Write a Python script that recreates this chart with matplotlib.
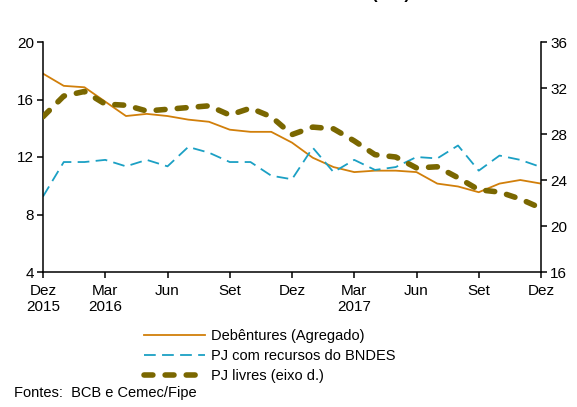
import numpy as np
import matplotlib
matplotlib.use('Agg')
import matplotlib.pyplot as plt

plt.rcParams['font.family'] = ['Liberation Sans', 'DejaVu Sans']

# monthly, Dez 2015 .. Dez 2017
months = np.arange(25)
tick_pos = [0, 3, 6, 9, 12, 15, 18, 21, 24]
tick_labels = ['Dez\n2015', 'Mar\n2016', 'Jun', 'Set', 'Dez', 'Mar\n2017', 'Jun', 'Set', 'Dez']

debentures = [17.8, 16.95, 16.85, 15.85, 14.85, 15.0, 14.85, 14.6, 14.45, 13.9, 13.75, 13.75, 13.0,
              11.95, 11.3, 10.95, 11.05, 11.05, 10.95, 10.15, 9.95, 9.55, 10.15, 10.4, 10.15]
bndes = [9.25, 11.65, 11.65, 11.8, 11.35, 11.8, 11.35, 12.7, 12.3, 11.65, 11.65, 10.7, 10.45,
         12.65, 10.95, 11.8, 11.1, 11.3, 12.0, 11.9, 12.8, 11.05, 12.1, 11.8, 11.3]
livres = [29.5, 31.3, 31.7, 30.6, 30.5, 30.0, 30.15, 30.3, 30.45, 29.65, 30.25, 29.5, 27.95,
          28.6, 28.45, 27.4, 26.2, 26.0, 25.05, 25.15, 24.2, 23.15, 22.95, 22.35, 21.55]

c_deb = '#D17F0A'
c_bndes = '#1BA0C4'
c_liv = '#7A6700'
fs = 10.5

fig = plt.figure(figsize=(5.77, 4.07), dpi=100)
ax = fig.add_axes([43/577, 1-272/407, (541-43)/577, (272-42)/407])
ax2 = ax.twinx()

l1, = ax.plot(months, debentures, color=c_deb, lw=1.3, label='Debêntures (Agregado)')
l2, = ax.plot(months, bndes, color=c_bndes, lw=1.3, dashes=(6.5, 3.5), label='PJ com recursos do BNDES')
l3, = ax2.plot(months, livres, color=c_liv, lw=4.0, dashes=(1.6, 2.2), dash_capstyle='round',
               label='PJ livres (eixo d.)')

ax.set_xlim(0, 24)
ax.set_ylim(4, 20)
ax.set_yticks([4, 8, 12, 16, 20])
ax2.set_ylim(16, 36)
ax2.set_yticks([16, 20, 24, 28, 32, 36])
ax.set_xticks(tick_pos)
ax.set_xticklabels(tick_labels, linespacing=1.2)

for a in (ax, ax2):
    a.spines['top'].set_visible(False)
    for s in a.spines.values():
        s.set_linewidth(1.1)
    a.tick_params(direction='out', length=4, width=1.1, labelsize=11, colors='black', pad=2.5)
ax.tick_params(axis='x', pad=4.5)
ax.spines['right'].set_visible(False)
ax2.spines['left'].set_visible(False)
ax2.spines['bottom'].set_visible(False)

fig.legend(handles=[l1, l2, l3], loc='upper left', bbox_to_anchor=(144/577, 1-329/407),
           frameon=False, fontsize=fs, handlelength=4.2, labelspacing=0.42, handletextpad=0.4,
           borderaxespad=0, borderpad=0)

fig.text(14/577, 1-393/407, 'Fontes:  BCB e Cemec/Fipe', fontsize=fs, va='center')
fig.text(410/577, 1+1/407, '(a.a.)', fontsize=12, fontweight='bold', ha='right', va='baseline')

fig.savefig('out.png', dpi=100)
